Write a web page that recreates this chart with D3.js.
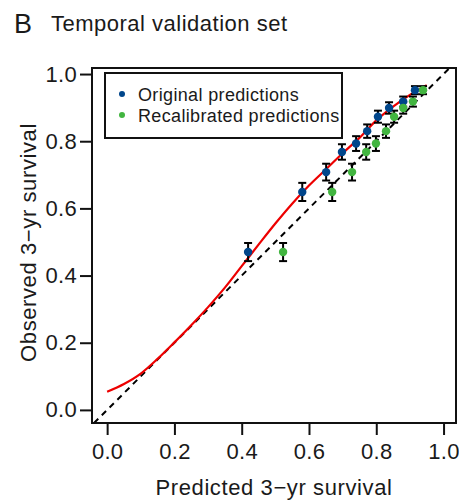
<!DOCTYPE html>
<html>
<head>
<meta charset="utf-8">
<script src="https://cdn.jsdelivr.net/npm/d3@7"></script>
<style>
  html, body { margin: 0; padding: 0; background: #fff; }
  svg { display: block; font-family: Arial, "Liberation Sans", sans-serif; }
</style>
</head>
<body>
<svg id="chart" width="459" height="500"></svg>
<script>
// Calibration of 3-year survival: observed vs predicted, per risk group
const observed      = [0.470, 0.649, 0.708, 0.768, 0.793, 0.830, 0.873, 0.899, 0.918, 0.952];
const observedErr   = [0.027, 0.027, 0.025, 0.023, 0.022, 0.020, 0.018, 0.017, 0.015, 0.012];
const predOriginal  = [0.419, 0.580, 0.651, 0.698, 0.740, 0.773, 0.805, 0.838, 0.880, 0.915];
const predRecalib   = [0.523, 0.669, 0.728, 0.770, 0.799, 0.829, 0.853, 0.880, 0.909, 0.939];

// Smoothed calibration curve of the original predictions
const curveX = [0.00, 0.05, 0.10, 0.15, 0.20, 0.25, 0.30, 0.35, 0.40, 0.45,
                0.50, 0.55, 0.60, 0.65, 0.70, 0.75, 0.80, 0.85, 0.90, 0.95];
const curveY = [0.054, 0.077, 0.108, 0.152, 0.201, 0.252, 0.306, 0.364, 0.428, 0.492,
                0.555, 0.614, 0.668, 0.716, 0.764, 0.810, 0.862, 0.903, 0.938, 0.967];

const tickValues = [0.0, 0.2, 0.4, 0.6, 0.8, 1.0];
const seriesNames = ["Original predictions", "Recalibrated predictions"];
const seriesColors = ["#00468B", "#42B540"];

const svg = d3.select("#chart");
const frame = { left: 92, right: 456, top: 68, bottom: 423 };

const x = d3.scaleLinear().domain([-0.045, 1.037]).range([frame.left, frame.right]);
const y = d3.scaleLinear().domain([-0.039, 1.018]).range([frame.bottom, frame.top]);

const textColor = "#1a1a1a";

// Panel heading
svg.append("text").attr("x", 14).attr("y", 33)
  .attr("font-size", 27).attr("fill", textColor).text("B");
svg.append("text").attr("x", 51).attr("y", 31)
  .attr("font-size", 22).attr("letter-spacing", 0.5).attr("fill", textColor)
  .text("Temporal validation set");

// Axes
const fmt = d3.format(".1f");
const xAxis = svg.append("g")
  .attr("transform", `translate(0,${frame.bottom})`)
  .call(d3.axisBottom(x).tickValues(tickValues).tickFormat(fmt).tickSize(12).tickPadding(8));
const yAxis = svg.append("g")
  .attr("transform", `translate(${frame.left},0)`)
  .call(d3.axisLeft(y).tickValues(tickValues).tickFormat(fmt).tickSize(12).tickPadding(3));
[xAxis, yAxis].forEach(g => {
  g.select(".domain").remove();
  g.selectAll(".tick line").attr("stroke", "#111").attr("stroke-width", 2);
  g.selectAll(".tick text").attr("font-size", 22).attr("fill", textColor)
    .attr("letter-spacing", 0.3)
    .attr("font-family", "Arial, 'Liberation Sans', sans-serif");
});

// Axis titles
svg.append("text")
  .attr("x", (frame.left + frame.right) / 2).attr("y", 495)
  .attr("text-anchor", "middle").attr("font-size", 22).attr("letter-spacing", 0.6)
  .attr("fill", textColor)
  .text("Predicted 3\u2212yr survival");
svg.append("text")
  .attr("transform", `translate(36,${(frame.top + frame.bottom) / 2 - 3}) rotate(-90)`)
  .attr("text-anchor", "middle").attr("font-size", 22).attr("letter-spacing", 0.6)
  .attr("fill", textColor)
  .text("Observed 3\u2212yr survival");

// Clip to plotting region
svg.append("clipPath").attr("id", "plotclip").append("rect")
  .attr("x", frame.left).attr("y", frame.top)
  .attr("width", frame.right - frame.left).attr("height", frame.bottom - frame.top);
const plot = svg.append("g").attr("clip-path", "url(#plotclip)");

// Line of perfect calibration
const dMin = Math.max(x.domain()[0], y.domain()[0]);
const dMax = Math.min(x.domain()[1], y.domain()[1]);
plot.append("line")
  .attr("x1", x(dMin)).attr("y1", y(dMin))
  .attr("x2", x(dMax)).attr("y2", y(dMax))
  .attr("stroke", "#000").attr("stroke-width", 2).attr("stroke-dasharray", "6,5");

// Smoothed curve
const curve = curveX.map((v, i) => [v, curveY[i]]);
plot.append("path").datum(curve)
  .attr("fill", "none").attr("stroke", "#ED0000").attr("stroke-width", 2.2)
  .attr("d", d3.line().x(d => x(d[0])).y(d => y(d[1])).curve(d3.curveMonotoneX));

// Error bars for both series
const series = [predOriginal, predRecalib];
series.forEach(preds => {
  const bars = plot.append("g").attr("stroke", "#000").attr("stroke-width", 2);
  preds.forEach((p, i) => {
    const o = observed[i], e = observedErr[i];
    bars.append("line").attr("x1", x(p)).attr("x2", x(p))
      .attr("y1", y(o - e)).attr("y2", y(o + e));
    [o - e, o + e].forEach(v => {
      bars.append("line").attr("x1", x(p) - 4).attr("x2", x(p) + 4)
        .attr("y1", y(v)).attr("y2", y(v));
    });
  });
});
// Points
series.forEach((preds, s) => {
  plot.append("g").selectAll("circle")
    .data(preds.map((p, i) => [p, observed[i]]))
    .join("circle")
    .attr("cx", d => x(d[0])).attr("cy", d => y(d[1]))
    .attr("r", 4.2).attr("fill", seriesColors[s]);
});

// Plot frame
svg.append("rect")
  .attr("x", frame.left).attr("y", frame.top)
  .attr("width", frame.right - frame.left).attr("height", frame.bottom - frame.top)
  .attr("fill", "none").attr("stroke", "#111").attr("stroke-width", 2);

// Legend
const legend = svg.append("g");
legend.append("rect")
  .attr("x", 105).attr("y", 73).attr("width", 237).attr("height", 65)
  .attr("fill", "#fff").attr("stroke", "#111").attr("stroke-width", 2);
seriesNames.forEach((name, i) => {
  const row = legend.append("g").attr("transform", `translate(0,${94 + i * 21})`);
  row.append("circle").attr("cx", 122).attr("cy", 0).attr("r", 3).attr("fill", seriesColors[i]);
  row.append("text").attr("x", 138).attr("y", 6.5)
    .attr("font-size", 18).attr("letter-spacing", 0.35).attr("fill", textColor).text(name);
});
</script>
</body>
</html>
